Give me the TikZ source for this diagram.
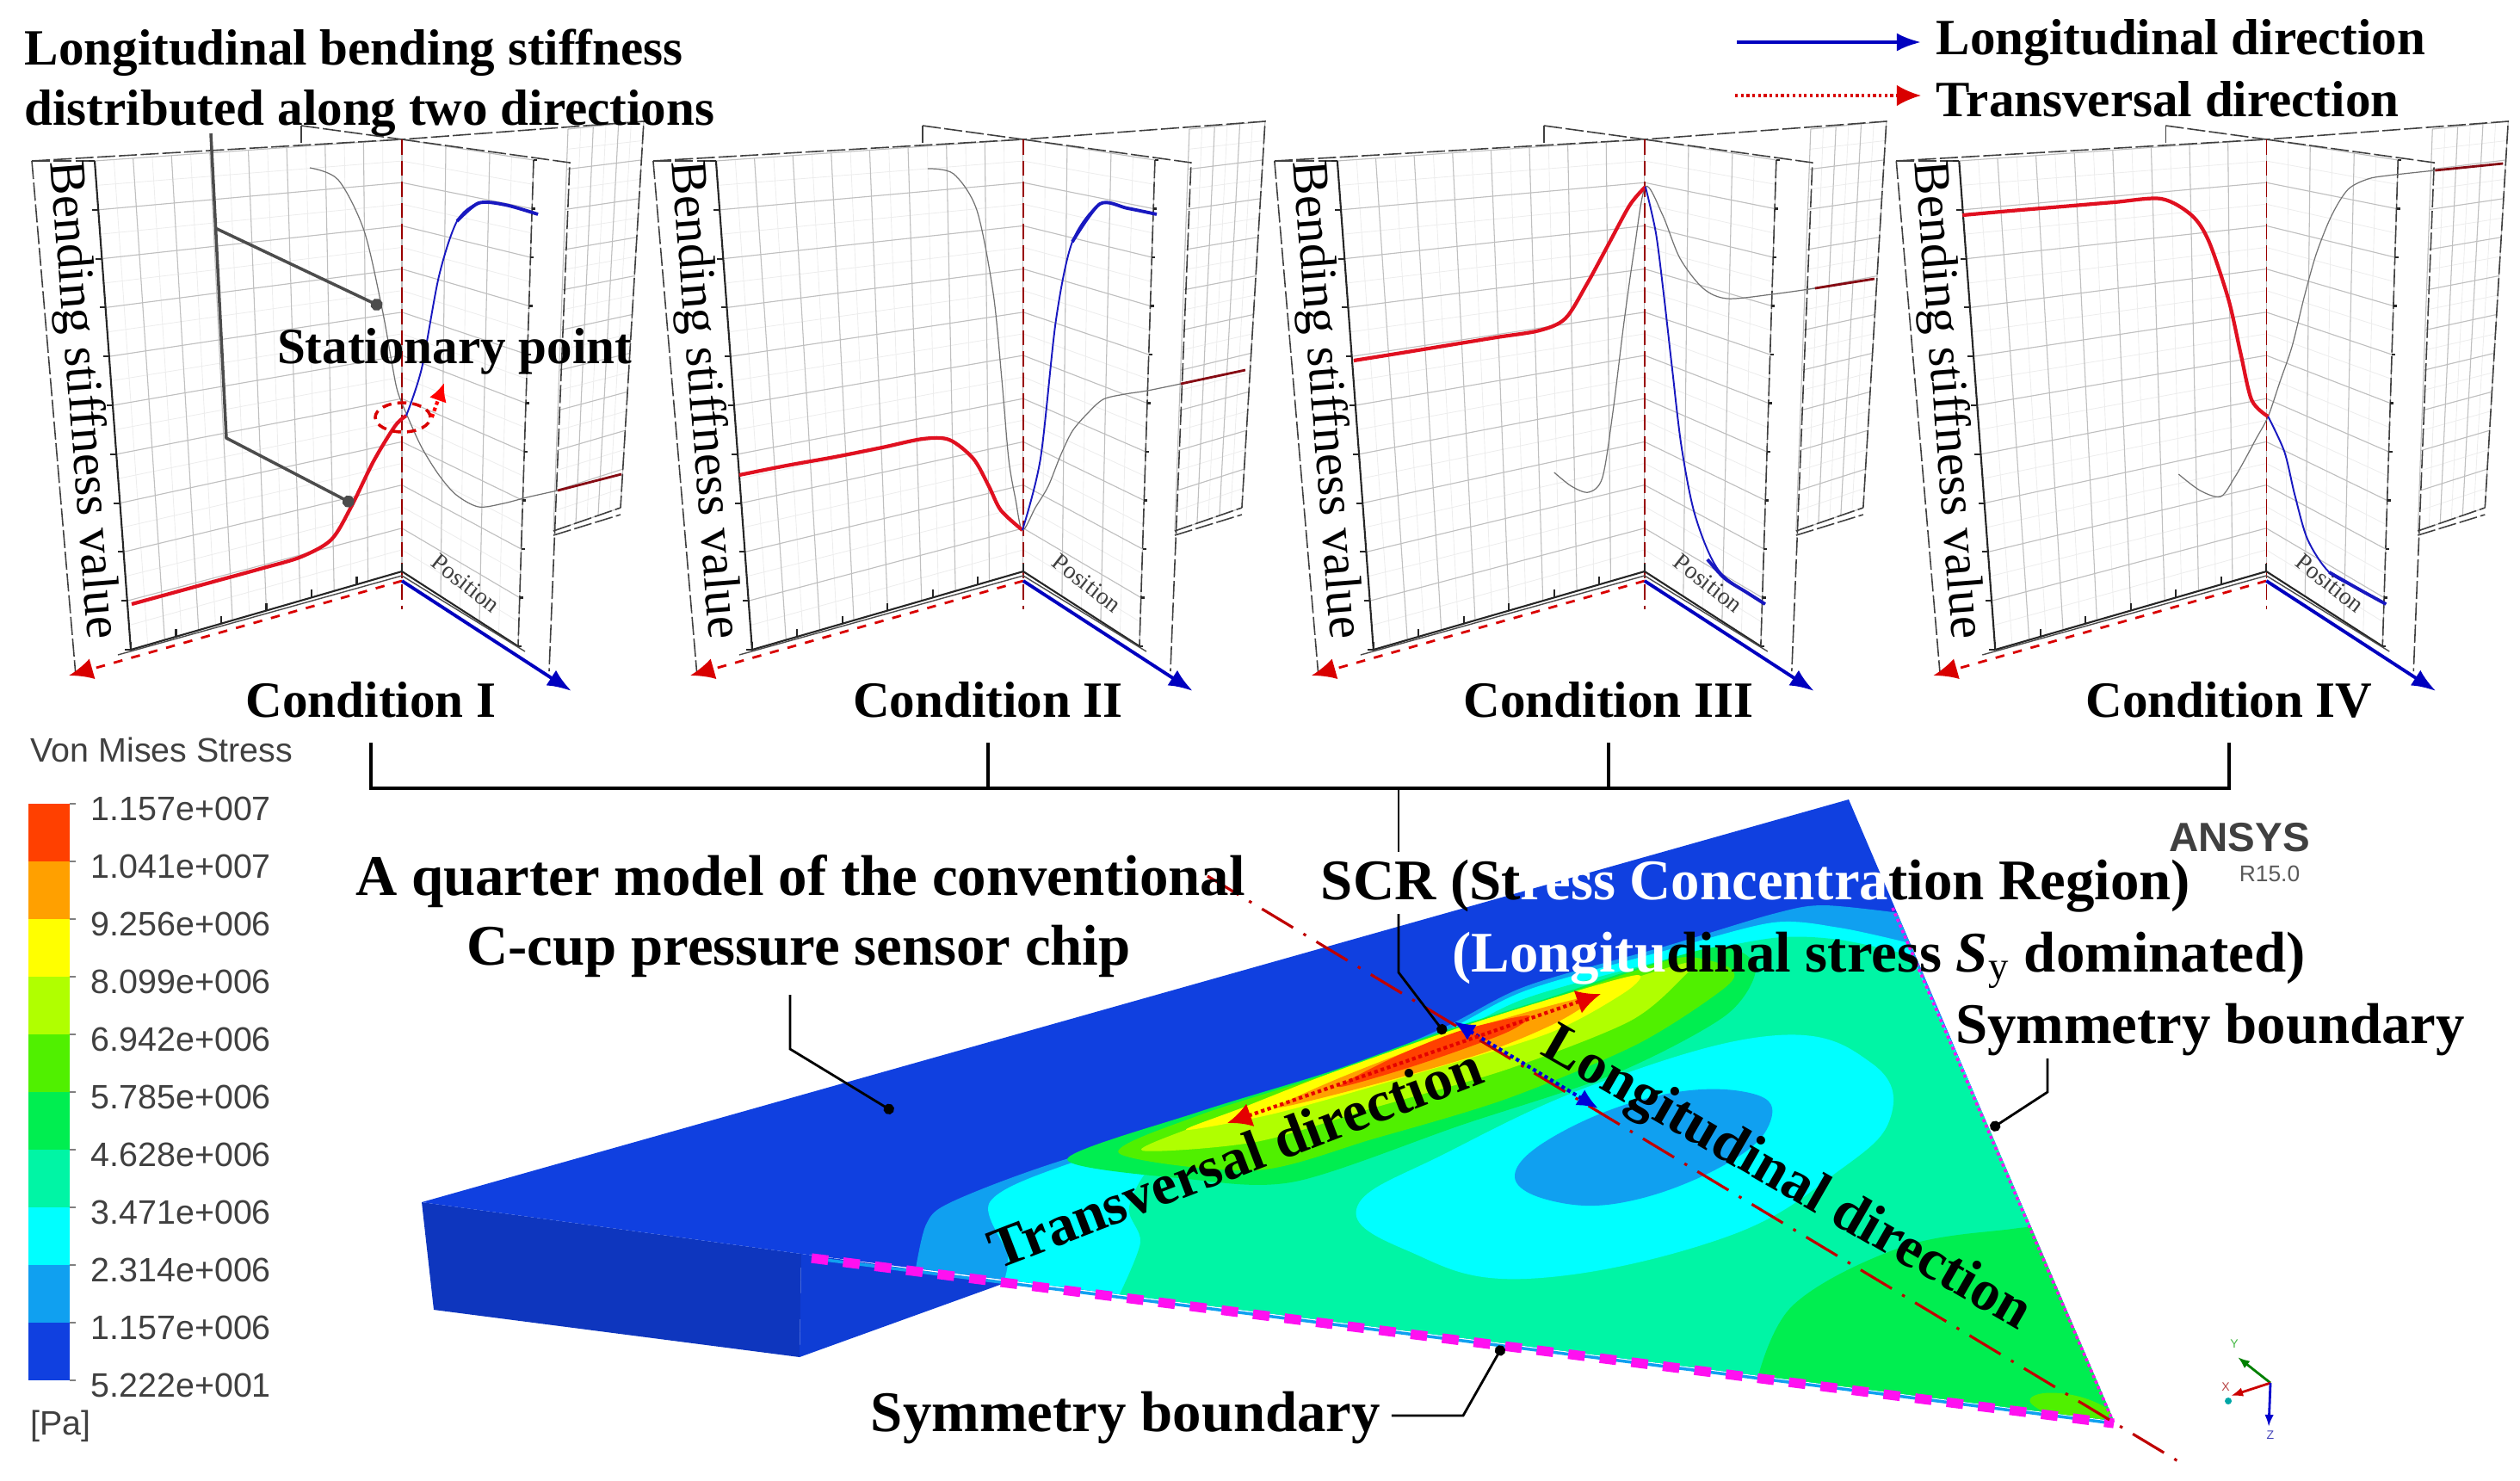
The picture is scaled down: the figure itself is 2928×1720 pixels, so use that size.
\documentclass[tikz,border=0pt]{standalone}
\usepackage{fontspec}
\setmainfont{Liberation Serif}
\setsansfont{Liberation Sans}
\usetikzlibrary{positioning, arrows.meta, calc, shapes.geometric}
\definecolor{stressA}{HTML}{FF4000}
\definecolor{stressB}{HTML}{FFA000}
\definecolor{stressC}{HTML}{FFFF00}
\definecolor{stressD}{HTML}{B0FF00}
\definecolor{stressE}{HTML}{50F000}
\definecolor{stressF}{HTML}{00EE50}
\definecolor{stressG}{HTML}{00F5A5}
\definecolor{stressH}{HTML}{00FFFF}
\definecolor{stressI}{HTML}{10A0F0}
\definecolor{stressJ}{HTML}{1040E0}
\definecolor{curvered}{HTML}{E01020}
\definecolor{curveblue}{HTML}{1818C0}
\definecolor{symmag}{HTML}{FF10F0}

\tikzset{
  gridmaj/.style={gray!50, line width=.3pt},
  gridmin/.style={gray!14, line width=.25pt},
  frameline/.style={black!75, line width=.45pt, dash pattern=on 6pt off 1.2pt},
  axisline/.style={black!85, line width=.6pt},
  redcurve/.style={curvered, line width=1.2pt},
  bluecurve/.style={curveblue, line width=.55pt},
  blueend/.style={curveblue, line width=1.1pt},
  thincurve/.style={gray!90!black, line width=.35pt},
  backcurve/.style={curvered!60!black, line width=.8pt},
  redaxis/.style={red!85!black, line width=.8pt, dashed, -{Latex[length=8pt,width=7pt]}},
  blueaxis/.style={blue!75!black, line width=1.1pt, -{Latex[length=8pt,width=6pt]}},
  title/.style={font=\bfseries\fontsize{16.8}{18}\selectfont, inner sep=0pt},
  biglabel/.style={font=\bfseries\fontsize{19}{20}\selectfont, inner sep=0pt},
  condlabel/.style={font=\bfseries\fontsize{16.8}{18}\selectfont, outer ysep=5pt},
  ylabel/.style={font=\fontsize{16.9}{18}\selectfont, rotate=-85.5, inner sep=0pt},
  poslabel/.style={font=\fontsize{8}{9}\selectfont, text=black!75, rotate=-38, inner sep=0pt},
  cbarlabel/.style={font=\sffamily\fontsize{11.2}{12}\selectfont, text=black!75, inner sep=0pt},
  leader/.style={black, line width=.8pt},
  dotleader/.style={leader, -{Circle[length=3.5pt]}},
  graydot/.style={black!70, line width=1pt, -{Circle[length=4pt]}},
  brack/.style={black, line width=1pt},
  symdash/.style={symmag, line width=3.2pt, dash pattern=on 5.5pt off 5pt}
}

% grid of a wall: corners, columns, rows, style
\newcommand{\wallgrid}[7]{%
  \foreach \i in {0,...,#5}{%
    \pgfmathsetmacro\t{\i/#5}
    \draw[#7] ($(#1)!\t!(#2)$) -- ($(#4)!\t!(#3)$);
  }
  \foreach \i in {0,...,#6}{%
    \pgfmathsetmacro\t{\i/#6}
    \draw[#7] ($(#1)!\t!(#4)$) -- ($(#2)!\t!(#3)$);
  }
}

% one chart frame, #1 is the suffix of its node names
\newcommand{\panelframe}[1]{%
  \coordinate (ltop) at (110,187);
  \coordinate (lbot) at (152,755);
  \coordinate (corner) at (467,162);
  \coordinate (floor) at (467,664);
  \coordinate (rtop) at (620,186);
  \coordinate (rbot) at (602,751);
  \coordinate (btop) at (748,141);
  \coordinate (bbot) at (721,590);
  \coordinate (bfront) at (660,150);
  \coordinate (bfoot) at (643,617);
  \wallgrid{ltop}{corner}{floor}{lbot}{16}{20}{gridmin}
  \wallgrid{corner}{rtop}{rbot}{floor}{6}{20}{gridmin}
  \wallgrid{bfront}{btop}{bbot}{bfoot}{6}{20}{gridmin}
  \wallgrid{ltop}{corner}{floor}{lbot}{8}{10}{gridmaj}
  \wallgrid{corner}{rtop}{rbot}{floor}{3}{10}{gridmaj}
  \wallgrid{bfront}{btop}{bbot}{bfoot}{3}{10}{gridmaj}
  % wall outlines
  \draw[frameline] (37,187) -- (corner) -- (662,189) -- (638,780);
  \draw[frameline] (37,187) -- (88,785);
  \draw[frameline] (350,146) -- (350,166);
  \draw[frameline] (350,146) -- (corner) -- (btop) -- (bbot);
  \draw[frameline] (bfoot) -- (bbot);
  \draw[frameline] (643,622) -- (721,598);
  \draw[frameline] (620,186) -- (602,751);
  \draw[frameline] (37,187) -- (ltop);
  \draw[axisline] (ltop) -- (lbot);
  \draw[red!60!black, dash pattern=on 5pt off 2pt, line width=.4pt] (corner) -- (467,708);
  \foreach \i in {0,...,10}{%
    \pgfmathsetmacro\t{\i/10}
    \draw[axisline] ($(ltop)!\t!(lbot)$) -- ++(-7,0);
    \draw[axisline] ($(rtop)!\t!(rbot)$) -- ++(4,0);
  }
  \foreach \i in {0,...,6}{%
    \pgfmathsetmacro\t{\i/6}
    \draw[axisline] ($(lbot)!\t!(floor)$) -- ++(0,-9);
  }
  \draw[axisline] (lbot) -- (floor) -- (rbot);
  \draw[black!70, line width=.4pt] (lbot) ++(-15,6) -- ($(floor)+(0,5)$) -- ($(rbot)+(8,6)$);
  \coordinate (redtip) at (80,785);
  \coordinate (bluetip) at (664,803);
  \coordinate (axisorg) at (467,675);
  \draw[redaxis] (axisorg) -- (redtip);
  \draw[blueaxis] (axisorg) -- (bluetip);
  \node[ylabel] (ylab#1) at (95,465) {Bending stiffness value};
  \node[poslabel] (pos#1) at (541,678) {Position};
}

\begin{document}
\begin{tikzpicture}[x=0.01cm, y=-0.01cm]
  \useasboundingbox (0,0) rectangle (2928,1720);

  % charts
  \begin{scope}
    \panelframe{I}
    \draw[thincurve] plot[smooth] coordinates {(360,195) (393,209) (423,268) (444,359) (455,420) (462,455) (474,485) (490,520) (510,552) (530,575) (556,589) (585,585) (612,578) (648,570)};
    \draw[backcurve] (648,570) -- (722,551);
    \draw[redcurve] plot[smooth] coordinates {(153,702) (204,688) (255,674) (306,660) (350,647) (385,627) (408,589) (434,536) (459,495) (472,483)};
    \draw[bluecurve] plot[smooth] coordinates {(472,483) (490,428) (510,321) (531,257) (556,236) (587,238) (625,249)};
    \draw[blueend] plot[smooth] coordinates {(531,257) (556,236) (587,238) (625,249)};
  \end{scope}
  \begin{scope}[xshift=7.215cm]
    \panelframe{II}
    \draw[thincurve] plot[smooth] coordinates {(356,196) (386,202) (413,244) (432,340) (442,440) (450,533) (458,580) (466,616) (481,590) (496,565) (510,530) (524,501) (542,480) (560,464) (585,458) (611,454) (650,446)};
    \draw[backcurve] (650,446) -- (725,430);
    \draw[redcurve] plot[smooth] coordinates {(137,552) (192,541) (248,531) (303,520) (350,510) (381,511) (409,533) (427,565) (441,593) (466,616)};
    \draw[bluecurve] plot[smooth] coordinates {(466,616) (487,533) (505,372) (524,281) (556,237) (588,242) (622,249)};
    \draw[blueend] plot[smooth] coordinates {(524,281) (556,237) (588,242) (622,249)};
  \end{scope}
  \begin{scope}[xshift=14.43cm]
    \panelframe{III}
    \draw[thincurve] plot[smooth] coordinates {(362,549) (382,565) (402,572) (418,555) (430,480) (443,375) (455,290) (468,217) (488,250) (508,300) (535,335) (563,347) (615,342) (665,335)};
    \draw[backcurve] (665,335) -- (734,324);
    \draw[redcurve] plot[smooth] coordinates {(129,419) (185,410) (240,401) (295,392) (345,384) (375,370) (400,330) (425,284) (450,238) (468,217)};
    \draw[bluecurve] plot[smooth] coordinates {(468,217) (480,270) (489,340) (499,428) (510,520) (526,600) (554,664) (607,702)};
    \draw[blueend] plot[smooth] coordinates {(540,650) (560,672) (585,688) (607,702)};
  \end{scope}
  \begin{scope}[xshift=21.65cm]
    \panelframe{IV}
    \draw[thincurve] plot[smooth] coordinates {(365,551) (390,570) (414,577) (430,555) (441,536) (455,510) (469,484) (483,443) (497,402) (511,345) (525,295) (543,250) (562,220) (585,208) (608,204) (663,198)};
    \draw[backcurve] (663,198) -- (742,190);
    \draw[redcurve] plot[smooth] coordinates {(114,250) (170,245) (230,240) (290,235) (345,231) (380,250) (400,280) (423,348) (437,410) (450,465) (469,484)};
    \draw[bluecurve] plot[smooth] coordinates {(469,484) (488,525) (500,575) (515,627) (540,665) (575,685) (606,702)};
    \draw[blueend] plot[smooth] coordinates {(540,665) (575,685) (606,702)};
  \end{scope}

  % texts of the charts
  \node[title, anchor=west] (stiffA) at (28,61) {Longitudinal bending stiffness};
  \node[title, anchor=west] (stiffB) at (28,132) {distributed along two directions};
  \coordinate (stiffStart) at (245,155);
  \coordinate (stiffBend) at (250,265);
  \coordinate (stiffLow) at (263,509);
  \coordinate (stiffEndA) at (444,357);
  \coordinate (stiffEndB) at (411,586);
  \draw[graydot] (stiffBend) -- (stiffEndA);
  \draw[graydot] (stiffStart) -- (stiffLow) -- (stiffEndB);
  \node[title] (station) at (528,408) {Stationary point};
  \node[draw=red!85!black, densely dashed, line width=1pt, ellipse, minimum width=0.64cm, minimum height=0.34cm, inner sep=0pt] (statring) at (468,485) {};
  \coordinate (statTip) at (516,445);
  \draw[red, line width=1.2pt, densely dotted, -{Latex[length=6pt,width=6pt]}] (statring.east) -- (statTip);

  \node[title, anchor=west] (legLong) at (2249,50) {Longitudinal direction};
  \node[title, anchor=west] (legTrans) at (2249,115) {Transversal direction};
  \coordinate (legLongA) at (2018,49);
  \coordinate (legLongB) at (2232,49);
  \coordinate (legTransA) at (2016,111);
  \coordinate (legTransB) at (2232,111);
  \draw[blueaxis] (legLongA) -- (legLongB);
  \draw[red!85!black, line width=.9pt, densely dotted, -{Latex[length=8pt,width=7pt]}] (legTransA) -- (legTransB);

  \node[condlabel] (condI) at (431,813) {Condition I};
  \node[condlabel] (condII) at (1148,813) {Condition II};
  \node[condlabel] (condIII) at (1869,813) {Condition III};
  \node[condlabel] (condIV) at (2590,813) {Condition IV};

  % stress scale
  \node[cbarlabel, anchor=west] (cbarname) at (35,871) {Von Mises Stress};
  \foreach \col [count=\i from 0] in {stressA,stressB,stressC,stressD,stressE,stressF,stressG,stressH,stressI,stressJ}{
    \fill[\col] (33,{934+67*\i}) rectangle (81,{1001+67*\i});
  }
  \foreach \val [count=\i from 0] in {1.157e+007,1.041e+007,9.256e+006,8.099e+006,6.942e+006,5.785e+006,4.628e+006,3.471e+006,2.314e+006,1.157e+006,5.222e+001}{
    \draw[gray, line width=.4pt] (81,{934+67*\i}) -- (88,{934+67*\i});
    \node[cbarlabel, anchor=west] (cbarval\i) at (105,{940+67*\i}) {\val};
  }
  \node[cbarlabel, anchor=west] (cbarunit) at (35,1657) {[Pa]};

  % the chip, block first
  \fill[stressJ!85!black] (490,1397) -- (931,1457) -- (929,1577) -- (504,1522) -- cycle;
  \fill[stressJ!95!black] (931,1457) -- (1170,1490) -- (929,1577) -- cycle;
  \fill[stressJ] (490,1397) -- (2148,929) -- (2456,1651) -- (931,1457) -- cycle;
  \begin{scope}
    \clip (490,1397) -- (2148,929) -- (2456,1651) -- (931,1457) -- cycle;
    \fill[stressI] plot[smooth, tension=.5] coordinates {(1063,1480) (1076,1423) (1105,1397) (1229,1350) (1478,1277) (1669,1198) (1773,1146) (1937,1099) (2060,1062) (2119,1052) (2215,1062)} -- (2470,1660) -- (1063,1660) -- cycle;
    \fill[stressH] plot[smooth, tension=.5] coordinates {(1163,1500) (1171,1460) (1150,1397) (1240,1353) (1478,1282) (1669,1203) (1773,1151) (1937,1104) (2060,1072) (2137,1078) (2215,1095)} -- (2470,1660) -- (1163,1660) -- cycle;
    \fill[stressG] plot[smooth, tension=.5] coordinates {(1298,1510) (1325,1444) (1312,1402) (1350,1345) (1478,1290) (1669,1211) (1773,1160) (1937,1115) (2060,1090) (2137,1092) (2220,1110)} -- (2470,1660) -- (1298,1660) -- cycle;
    % ridge of the stress, outside in
    \fill[stressF] plot[smooth cycle, tension=.5] coordinates {(1240,1347) (1393,1292) (1546,1245) (1674,1199) (1801,1159) (1903,1125) (2000,1100) (2040,1125) (2005,1180) (1878,1247) (1699,1307) (1505,1373) (1380,1370)};
    \fill[stressE] plot[smooth cycle, tension=.5] coordinates {(1300,1340) (1393,1296) (1546,1247) (1674,1201) (1801,1161) (1903,1127) (1960,1112) (2010,1125) (2005,1147) (1903,1213) (1750,1277) (1597,1323) (1459,1360)};
    \fill[stressD] plot[smooth cycle, tension=.5] coordinates {(1327,1337) (1393,1307) (1546,1250) (1699,1200) (1878,1143) (1964,1118) (1954,1137) (1893,1187) (1750,1243) (1597,1287) (1459,1327)};
    \fill[stressC] plot[smooth cycle, tension=.5] coordinates {(1378,1313) (1444,1287) (1546,1247) (1699,1193) (1827,1153) (1903,1133) (1888,1153) (1801,1200) (1648,1247) (1485,1293)};
    \fill[stressB] plot[smooth cycle, tension=.5] coordinates {(1485,1287) (1546,1257) (1648,1217) (1750,1183) (1852,1157) (1811,1187) (1725,1223) (1597,1260)};
    \fill[stressA] plot[smooth cycle, tension=.5] coordinates {(1556,1263) (1623,1227) (1699,1197) (1776,1180) (1750,1200) (1648,1237)};
    % middle of the plate and the far corner
    \fill[stressH] plot[smooth cycle, tension=.7] coordinates {(1577,1402) (1682,1339) (1864,1256) (2065,1203) (2174,1235) (2197,1297) (2137,1360) (2001,1439) (1773,1486) (1637,1454)};
    \fill[stressI] plot[smooth cycle, tension=.7] coordinates {(1760,1365) (1819,1313) (1937,1271) (2037,1271) (2057,1303) (2010,1350) (1901,1394) (1810,1397)};
    \fill[stressF] plot[smooth, tension=.6] coordinates {(2040,1610) (2083,1517) (2210,1449) (2338,1428) (2380,1425)} -- (2470,1660) -- cycle;
    \fill[stressE] plot[smooth cycle, tension=.7] coordinates {(2361,1632) (2374,1619) (2420,1624) (2452,1643) (2411,1653)};
  \end{scope}

  % borders and directions on the plate
  \coordinate (symA) at (943,1462);
  \coordinate (symB) at (2456,1654);
  \coordinate (symC) at (2199,1055);
  \draw[stressI, line width=1pt] (symA) -- (symB);
  \draw[symdash] (symA) -- (symB);
  \draw[symmag, line width=1pt, densely dotted] (symC) -- (symB);
  \coordinate (longA) at (1403,1018);
  \coordinate (longB) at (2534,1700);
  \draw[red!75!black, line width=.9pt, dash pattern=on 12pt off 4pt on 1pt off 4pt] (longA) -- (longB);
  \coordinate (arrLongA) at (1689,1187);
  \coordinate (arrLongB) at (1857,1288);
  \coordinate (arrTransA) at (1426,1305);
  \coordinate (arrTransB) at (1860,1155);
  \draw[blue!85!black, line width=1.2pt, densely dotted, {Latex[length=7pt,width=6pt]}-{Latex[length=7pt,width=6pt]}] (arrLongA) -- (arrLongB);
  \draw[red!90!black, line width=1.2pt, densely dotted, {Latex[length=8pt,width=8pt]}-{Latex[length=8pt,width=8pt]}] (arrTransA) -- (arrTransB);

  % labels of the chip
  \node[biglabel] (quarterA) at (930,1024) {A quarter model of the conventional};
  \node[biglabel] (quarterB) at (928,1105) {C-cup pressure sensor chip};
  \node[biglabel] (scrA) at (2040,1030) {SCR (St\textcolor{white}{ress Concentra}tion Region)};
  \node[biglabel] (scrB) at (2183,1116) {\textcolor{white}{(Longitu}dinal stress \textit{S}\textsubscript{\normalfont y} dominated)};
  \node[biglabel] (symright) at (2568,1196) {Symmetry boundary};
  \node[biglabel] (symlow) at (1308,1647) {Symmetry boundary};
  \node[biglabel, rotate=21] (transdir) at (1435,1345) {Transversal direction};
  \node[biglabel, rotate=-30] (longdir) at (2075,1372) {Longitudinal direction};

  % leaders
  \coordinate (quarterEnd) at (1038,1292);
  \coordinate (quarterBend) at (918,1219);
  \coordinate (quarterTop) at (918,1156);
  \draw[dotleader] (quarterTop) -- (quarterBend) -- (quarterEnd);
  \coordinate (symRTop) at (2379,1230);
  \coordinate (symRBend) at (2379,1269);
  \coordinate (symREnd) at (2313,1312);
  \draw[dotleader] (symRTop) -- (symRBend) -- (symREnd);
  \coordinate (symLBend) at (1700,1645);
  \coordinate (symLEnd) at (1746,1564);
  \draw[dotleader] (symlow.east) ++(12,-2) -- (symLBend) -- (symLEnd);

  % bracket over the chip
  \coordinate (brkbar) at (0,916);
  \coordinate (scrTop) at (1625,990);
  \coordinate (scrLow) at (1625,1062);
  \coordinate (scrBend) at (1625,1130);
  \coordinate (scrEnd) at (1679,1201);
  \draw[brack] (condI.south) |- (condIV.south |- brkbar) -- (condIV.south);
  \draw[brack] (condII.south) -- (condII.south |- brkbar);
  \draw[brack] (condIII.south) -- (condIII.south |- brkbar);
  \draw[leader] (scrTop |- brkbar) -- (scrTop);
  \draw[dotleader] (scrLow) -- (scrBend) -- (scrEnd);

  % solver mark
  \node[font=\sffamily\bfseries\fontsize{13.5}{14}\selectfont, text=black!75, inner sep=0pt] (ansys) at (2602,973) {ANSYS};
  \node[font=\sffamily\fontsize{7.5}{8}\selectfont, text=black!65, inner sep=0pt] (ansysrel) at (2637,1015) {R15.0};
  \coordinate (triad) at (2638,1607);
  \coordinate (triadY) at (2600,1577);
  \coordinate (triadX) at (2592,1622);
  \coordinate (triadZ) at (2636,1658);
  \draw[green!50!black, line width=.8pt, -{Latex[length=4pt]}] (triad) -- (triadY);
  \draw[red!80!black, line width=.8pt, -{Latex[length=4pt]}] (triad) -- (triadX);
  \draw[blue!80!black, line width=.8pt, -{Latex[length=4pt]}] (triad) -- (triadZ);
  \fill[teal!70!cyan] (2589,1628) circle (4);
  \node[font=\sffamily\fontsize{4}{4}\selectfont, text=green!45!gray, inner sep=0pt] (labY) at (2596,1562) {Y};
  \node[font=\sffamily\fontsize{4}{4}\selectfont, text=red!45!gray, inner sep=0pt] (labX) at (2586,1612) {X};
  \node[font=\sffamily\fontsize{4}{4}\selectfont, text=blue!45!gray, inner sep=0pt] (labZ) at (2638,1668) {Z};
\end{tikzpicture}
\end{document}
